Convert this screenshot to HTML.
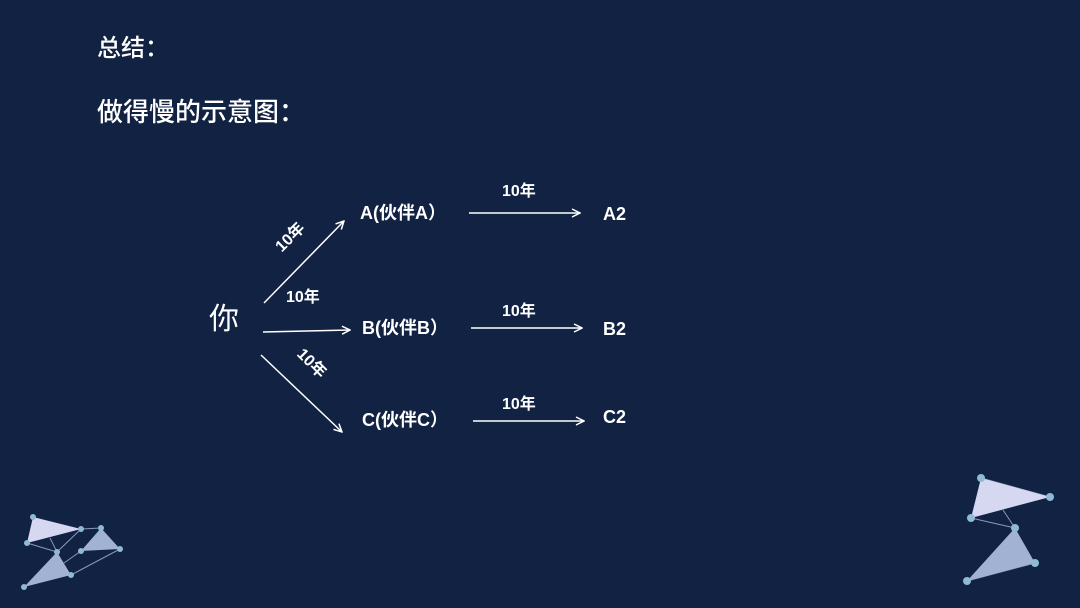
<!DOCTYPE html>
<html><head><meta charset="utf-8"><style>
body{margin:0;width:1080px;height:608px;background:#112243;overflow:hidden;font-family:"Liberation Sans","Noto Sans CJK SC",sans-serif;color:#fff}
.t{position:absolute;white-space:nowrap;line-height:1}
.b{font-weight:bold;font-size:18px}
</style></head><body>
<div class="t" style="left:97px;top:37px;font-size:24px;font-weight:500">总结：</div>
<div class="t" style="left:97px;top:99px;font-size:26px;font-weight:500">做得慢的示意图：</div>
<div class="t" style="left:209px;top:305px;font-size:30px">你</div>
<div class="t b" style="left:360px;top:204px">A(伙伴A）</div>
<div class="t b" style="left:362px;top:319px">B(伙伴B）</div>
<div class="t b" style="left:362px;top:411px">C(伙伴C）</div>
<div class="t b" style="left:603px;top:205px">A2</div>
<div class="t b" style="left:603px;top:320px">B2</div>
<div class="t b" style="left:603px;top:408px">C2</div>
<div class="t b" style="left:502px;top:184px;font-size:16px">10年</div>
<div class="t b" style="left:502px;top:304px;font-size:16px">10年</div>
<div class="t b" style="left:502px;top:397px;font-size:16px">10年</div>
<div class="t b" style="left:286px;top:290px;font-size:16px">10年</div>
<div class="t b" style="left:274px;top:230px;font-size:16px;transform:rotate(-45deg)">10年</div>
<div class="t b" style="left:294px;top:356px;font-size:16px;transform:rotate(45deg)">10年</div>
<svg width="1080" height="608" style="position:absolute;left:0;top:0">
<defs><marker id="a" markerWidth="10" markerHeight="10" refX="9" refY="5" orient="auto" markerUnits="userSpaceOnUse"><path d="M1,1 L9,5 L1,9" fill="none" stroke="#fff" stroke-width="1.5"/></marker></defs>
<g stroke="#fff" stroke-width="1.5" marker-end="url(#a)">
<line x1="264" y1="303" x2="344" y2="221"/>
<line x1="263" y1="332" x2="350" y2="330"/>
<line x1="261" y1="355" x2="342" y2="432"/>
<line x1="469" y1="213" x2="580" y2="213"/>
<line x1="471" y1="328" x2="582" y2="328"/>
<line x1="473" y1="421" x2="584" y2="421"/>
</g>
<g stroke="#8a9ab5" stroke-width="1" fill="none">
<line x1="27" y1="543" x2="57" y2="552"/><line x1="50" y1="538" x2="57" y2="552"/>
<line x1="81" y1="529" x2="57" y2="552"/><line x1="81" y1="529" x2="101" y2="528"/>
<line x1="64" y1="563" x2="81" y2="551"/><line x1="71" y1="575" x2="120" y2="549"/>
<line x1="971" y1="518" x2="1015" y2="528"/><line x1="1003" y1="510" x2="1015" y2="528"/>
<line x1="967" y1="581" x2="1035" y2="563"/><line x1="981" y1="478" x2="1050" y2="497"/>
</g>
<polygon points="33,517 27,543 81,529" fill="#d5d8f0"/>
<polygon points="101,528 81,551 120,549" fill="#a2b2d2"/>
<polygon points="57,552 24,587 71,575" fill="#a2b2d2"/>
<polygon points="981,478 1050,497 971,518" fill="#d5d8f0"/>
<polygon points="1015,528 1035,563 967,581" fill="#a2b2d2"/>
<g fill="#8fbad6">
<circle cx="33" cy="517" r="3"/><circle cx="27" cy="543" r="3"/><circle cx="81" cy="529" r="3"/>
<circle cx="101" cy="528" r="3"/><circle cx="81" cy="551" r="3"/><circle cx="120" cy="549" r="3"/>
<circle cx="57" cy="552" r="3"/><circle cx="24" cy="587" r="3"/><circle cx="71" cy="575" r="3"/>
<circle cx="981" cy="478" r="4"/><circle cx="1050" cy="497" r="4"/><circle cx="971" cy="518" r="4"/>
<circle cx="1015" cy="528" r="4"/><circle cx="1035" cy="563" r="4"/><circle cx="967" cy="581" r="4"/>
</g>
</svg>
</body></html>
